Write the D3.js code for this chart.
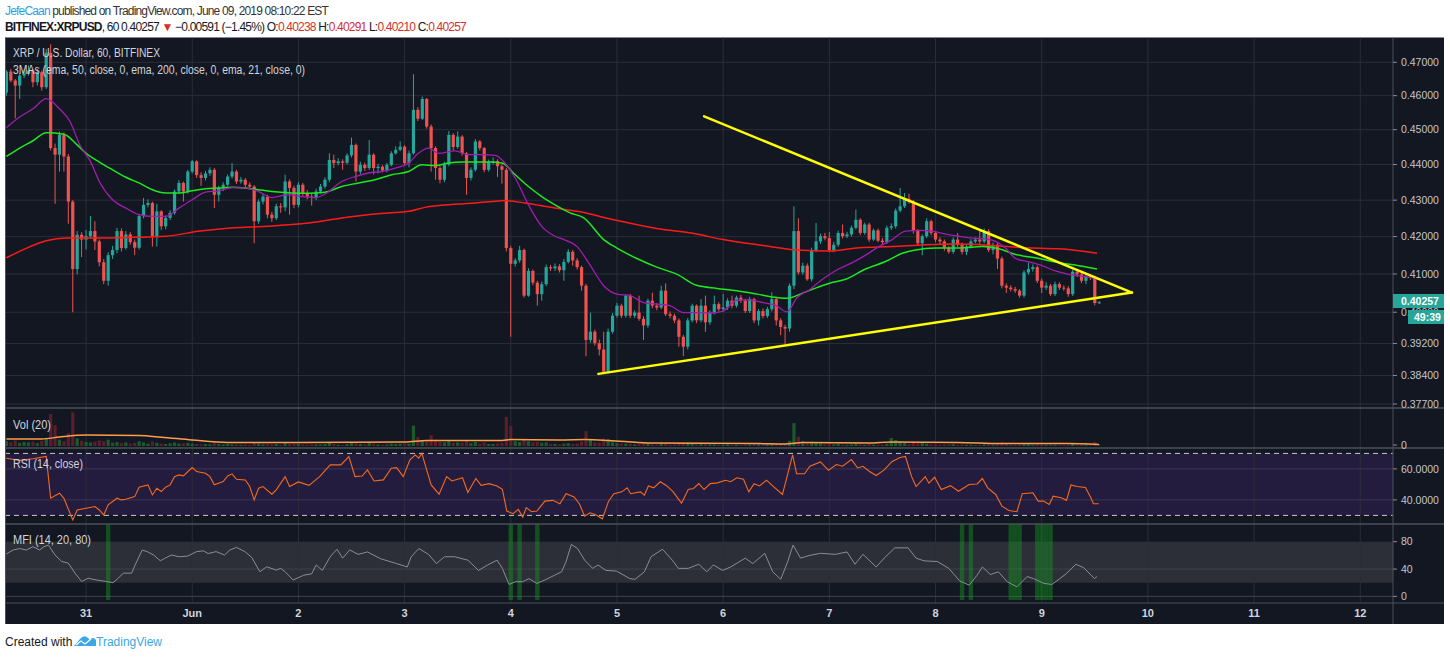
<!DOCTYPE html>
<html>
<head>
<meta charset="utf-8">
<script src="https://cdn.jsdelivr.net/npm/d3@7"></script>
<style>
  body { margin:0; background:#fff; font-family:"Liberation Sans", Arial, sans-serif; }
  svg { display:block; }
</style>
</head>
<body>
<svg id="chart" width="1450" height="657"></svg>
<script>
//
//  XRPUSD 60 min, Bitfinex - candles, 3 EMAs, Vol, RSI, MFI
//
const firstOpen = 0.4609;
const closes = [
  0.4672,0.4645,0.4630,0.4660,0.4665,0.4675,0.4640,0.4670,0.4625,0.4729,
  0.4447,0.4428,0.4485,0.4423,0.4296,0.4113,0.4205,0.4192,0.4201,0.4215,
  0.4187,0.4131,0.4082,0.4150,0.4164,0.4215,0.4169,0.4206,0.4185,0.4170,
  0.4256,0.4287,0.4292,0.4201,0.4269,0.4228,0.4251,0.4265,0.4324,0.4348,
  0.4324,0.4380,0.4409,0.4370,0.4362,0.4375,0.4385,0.4315,0.4334,0.4343,
  0.4366,0.4380,0.4352,0.4357,0.4343,0.4338,0.4242,0.4296,0.4310,0.4260,
  0.4250,0.4283,0.4280,0.4352,0.4334,0.4287,0.4343,0.4320,0.4310,0.4306,
  0.4324,0.4338,0.4357,0.4413,0.4404,0.4409,0.4405,0.4426,0.4456,0.4380,
  0.4399,0.4390,0.4428,0.4390,0.4394,0.4383,0.4399,0.4432,0.4442,0.4451,
  0.4404,0.4432,0.4558,0.4532,0.4590,0.4509,0.4447,0.4390,0.4357,0.4400,
  0.4485,0.4450,0.4480,0.4432,0.4362,0.4385,0.4466,0.4447,0.4385,0.4408,
  0.4410,0.4395,0.4385,0.4169,0.4127,0.4136,0.4164,0.4043,0.4108,0.4077,
  0.4047,0.4073,0.4118,0.4115,0.4120,0.4110,0.4132,0.4159,0.4136,0.4118,
  0.4069,0.3929,0.3950,0.3921,0.3905,0.3849,0.3950,0.3991,0.4017,0.3991,
  0.4043,0.3991,0.3999,0.3983,0.3966,0.4030,0.4017,0.4012,0.4056,0.3995,
  0.3991,0.3979,0.3937,0.3912,0.3979,0.4017,0.3979,0.4017,0.3974,0.3999,
  0.4021,0.4008,0.4012,0.4030,0.4017,0.4038,0.4030,0.4003,0.4034,0.3979,
  0.4003,0.3990,0.4008,0.4034,0.3979,0.3962,0.3958,0.4069,0.4215,0.4104,
  0.4122,0.4086,0.4164,0.4187,0.4201,0.4196,0.4164,0.4178,0.4210,0.4201,
  0.4206,0.4224,0.4246,0.4210,0.4233,0.4192,0.4217,0.4189,0.4185,0.4224,
  0.4228,0.4271,0.4283,0.4304,0.4296,0.4215,0.4182,0.4201,0.4242,0.4210,
  0.4192,0.4187,0.4169,0.4159,0.4192,0.4178,0.4159,0.4173,0.4187,0.4192,
  0.4187,0.4215,0.4164,0.4178,0.4141,0.4069,0.4064,0.4060,0.4056,0.4043,
  0.4104,0.4113,0.4118,0.4082,0.4064,0.4069,0.4047,0.4073,0.4064,0.4062,
  0.4047,0.4106,0.4099,0.4082,0.4093,0.4090,0.40238,0.40257
];
const highs = [
  0.4676,0.4680,0.4650,0.4668,0.4678,0.4690,0.4680,0.4680,0.4675,0.4740,
  0.4755,0.4460,0.4495,0.4492,0.4430,0.4300,0.4215,0.4212,0.4218,0.4256,
  0.4242,0.4192,0.4140,0.4158,0.4175,0.4224,0.4222,0.4215,0.4212,0.4192,
  0.4262,0.4306,0.4302,0.4296,0.4290,0.4272,0.4258,0.4272,0.4330,0.4356,
  0.4352,0.4385,0.4413,0.4412,0.4378,0.4382,0.4392,0.4390,0.4340,0.4350,
  0.4372,0.4404,0.4385,0.4365,0.4362,0.4350,0.4342,0.4302,0.4318,0.4315,
  0.4268,0.4290,0.4292,0.4371,0.4358,0.4340,0.4350,0.4348,0.4328,0.4318,
  0.4332,0.4345,0.4364,0.4432,0.4428,0.4418,0.4415,0.4432,0.4477,0.4460,
  0.4408,0.4405,0.4470,0.4432,0.4402,0.4398,0.4405,0.4438,0.4452,0.4466,
  0.4455,0.4440,0.4664,0.4566,0.4597,0.4593,0.4515,0.4452,0.4396,0.4408,
  0.4496,0.4490,0.4495,0.4484,0.4436,0.4392,0.4473,0.4470,0.4450,0.4414,
  0.4420,0.4415,0.4400,0.4390,0.4175,0.4142,0.4175,0.4168,0.4115,0.4112,
  0.4082,0.4080,0.4125,0.4124,0.4128,0.4126,0.4140,0.4166,0.4164,0.4142,
  0.4122,0.4074,0.3999,0.3955,0.3930,0.3950,0.3958,0.3998,0.4024,0.4022,
  0.4047,0.4048,0.4005,0.4043,0.3990,0.4035,0.4051,0.4024,0.4069,0.4075,
  0.4002,0.3996,0.3984,0.3942,0.3985,0.4022,0.4020,0.4034,0.4043,0.4005,
  0.4043,0.4026,0.4047,0.4036,0.4043,0.4043,0.4045,0.4035,0.4040,0.4038,
  0.4008,0.4010,0.4014,0.4052,0.4038,0.3985,0.3968,0.4075,0.4283,0.4250,
  0.4130,0.4128,0.4170,0.4237,0.4208,0.4210,0.4213,0.4186,0.4216,0.4233,
  0.4213,0.4230,0.4274,0.4250,0.4238,0.4238,0.4222,0.4222,0.4196,0.4230,
  0.4236,0.4277,0.4334,0.4320,0.4318,0.4300,0.4220,0.4206,0.4250,0.4246,
  0.4215,0.4198,0.4192,0.4175,0.4198,0.4210,0.4184,0.4178,0.4193,0.4198,
  0.4220,0.4222,0.4220,0.4184,0.4182,0.4146,0.4075,0.4070,0.4066,0.4060,
  0.4110,0.4130,0.4125,0.4122,0.4088,0.4078,0.4074,0.4080,0.4078,0.4070,
  0.4068,0.4112,0.4113,0.4104,0.4098,0.4098,0.4095,0.40291
];
const lows = [
  0.4600,0.4640,0.4533,0.4590,0.4652,0.4660,0.4625,0.4630,0.4615,0.4620,
  0.4440,0.4290,0.4380,0.4380,0.4235,0.4000,0.4099,0.4145,0.4165,0.4195,
  0.4164,0.4120,0.4073,0.4069,0.4140,0.4155,0.4160,0.4165,0.4178,0.4150,
  0.4165,0.4250,0.4280,0.4173,0.4173,0.4218,0.4220,0.4245,0.4260,0.4318,
  0.4296,0.4318,0.4375,0.4362,0.4340,0.4355,0.4368,0.4278,0.4296,0.4325,
  0.4338,0.4360,0.4345,0.4346,0.4335,0.4330,0.4182,0.4235,0.4288,0.4250,
  0.4240,0.4245,0.4265,0.4269,0.4260,0.4278,0.4280,0.4312,0.4302,0.4285,
  0.4300,0.4318,0.4332,0.4350,0.4390,0.4398,0.4385,0.4400,0.4420,0.4352,
  0.4372,0.4382,0.4385,0.4372,0.4375,0.4378,0.4378,0.4395,0.4428,0.4438,
  0.4398,0.4392,0.4428,0.4525,0.4528,0.4503,0.4380,0.4357,0.4347,0.4350,
  0.4395,0.4440,0.4445,0.4425,0.4315,0.4355,0.4380,0.4440,0.4378,0.4380,
  0.4400,0.4365,0.4346,0.4160,0.3937,0.4120,0.4130,0.4038,0.4040,0.4070,
  0.4017,0.4030,0.4068,0.4108,0.4108,0.4104,0.4082,0.4128,0.4122,0.4112,
  0.4056,0.3888,0.3922,0.3915,0.3890,0.3845,0.3845,0.3945,0.3986,0.3985,
  0.3986,0.3985,0.3985,0.3978,0.3929,0.3960,0.4010,0.4005,0.4008,0.3990,
  0.3984,0.3972,0.3912,0.3888,0.3905,0.3974,0.3972,0.3974,0.3950,0.3968,
  0.3994,0.4002,0.4002,0.4006,0.4010,0.4012,0.4024,0.3998,0.3998,0.3972,
  0.3966,0.3984,0.3985,0.4002,0.3966,0.3941,0.3917,0.3950,0.4060,0.4098,
  0.4098,0.4082,0.4080,0.4158,0.4180,0.4190,0.4158,0.4158,0.4172,0.4195,
  0.4196,0.4200,0.4220,0.4204,0.4205,0.4186,0.4188,0.4185,0.4178,0.4180,
  0.4218,0.4222,0.4266,0.4278,0.4290,0.4208,0.4175,0.4150,0.4196,0.4204,
  0.4185,0.4180,0.4162,0.4154,0.4154,0.4172,0.4152,0.4150,0.4168,0.4182,
  0.4180,0.4182,0.4158,0.4152,0.4113,0.4062,0.4050,0.4054,0.4050,0.4038,
  0.4038,0.4098,0.4106,0.4076,0.4050,0.4058,0.4042,0.4042,0.4058,0.4056,
  0.4040,0.4042,0.4092,0.4076,0.4073,0.4084,0.4018,0.40210
];
// volume, millions of XRP
const volumes = [
  1.2,0.9,1.4,0.8,1.0,0.9,1.1,0.7,1.3,2.0,
  8.0,5.2,1.6,1.2,3.2,8.4,1.9,1.3,1.0,0.9,
  1.1,1.4,1.2,1.6,0.8,1.0,0.7,0.9,0.6,0.8,
  1.2,0.9,0.6,1.1,0.8,0.6,0.5,0.7,0.9,0.6,
  0.7,0.8,0.6,0.5,0.4,0.5,0.4,0.8,0.5,0.4,
  0.5,0.4,0.4,0.3,0.4,0.3,0.9,0.6,0.4,0.5,
  0.4,0.5,0.3,0.7,0.5,0.6,0.5,0.4,0.3,0.4,
  0.4,0.4,0.5,0.9,0.5,0.3,0.3,0.5,0.8,0.9,
  0.5,0.4,0.8,0.6,0.4,0.3,0.4,0.6,0.5,0.6,
  0.7,0.6,5.1,2.2,1.5,1.4,2.7,1.6,1.0,0.9,
  1.4,0.8,0.9,0.8,1.2,0.7,1.0,0.6,0.9,0.5,
  0.5,0.6,0.8,7.3,5.0,1.2,1.0,1.6,1.2,0.9,
  1.0,0.8,0.9,0.5,0.5,0.4,0.6,0.7,0.5,0.6,
  1.1,3.7,1.6,0.9,0.8,1.8,1.7,0.9,0.7,0.6,
  0.6,0.6,0.4,0.5,0.8,0.7,0.4,0.3,0.6,0.7,
  0.3,0.4,0.6,0.7,0.8,0.6,0.4,0.5,0.6,0.4,
  0.4,0.3,0.3,0.4,0.3,0.3,0.2,0.4,0.4,0.5,
  0.4,0.3,0.3,0.4,0.5,0.5,0.6,1.3,5.7,2.3,
  1.2,0.9,1.1,0.8,0.6,0.4,0.5,0.4,0.5,0.3,
  0.3,0.4,0.6,0.4,0.3,0.5,0.3,0.3,0.3,0.6,
  2.0,1.5,1.2,0.8,0.5,0.9,0.7,0.8,0.6,0.4,
  0.4,0.3,0.4,0.4,0.5,0.3,0.4,0.3,0.3,0.2,
  0.3,0.4,0.5,0.3,0.6,0.9,0.5,0.3,0.3,0.4,
  0.7,0.5,0.3,0.5,0.4,0.3,0.4,0.3,0.2,0.2,
  0.3,0.6,0.3,0.3,0.2,0.2,1.0,0.1
];
// [bar index, value]
const volMA = [[0,1.75],[8,1.75],[12,2.25],[18,2.75],[30,2.6],[35,2.2],[42,1.5],[50,0.9],[66,0.9],
  [90,1.0],[95,1.4],[112,1.4],[114,1.6],[125,1.5],[131,1.6],[136,1.4],[145,0.75],[170,0.6],
  [176,0.5],[180,0.9],[195,0.75],[200,1.0],[215,0.9],[225,0.6],[240,0.6],[247,0.4]];
const ema21 = [[0,.4506],[3,.4537],[6,.4561],[9,.4591],[12,.4561],[14.4,.4523],[16.6,.4456],[19,.4409],
  [21,.4352],[24,.4301],[27,.4278],[30,.4260],[33,.4255],[36,.4255],[39,.4278],[42,.4301],[45,.4322],
  [48,.4326],[51,.4335],[54,.4334],[57,.4324],[60,.4307],[63.7,.4315],[66.8,.4310],[69.8,.4307],
  [72,.4317],[75.8,.4352],[78.8,.4366],[81.8,.4376],[84.8,.4380],[87.9,.4390],[90.9,.4404],[93.1,.4432],
  [95.4,.4447],[97.7,.4432],[101.4,.4439],[104.4,.4428],[107.4,.4428],[110.5,.4426],[112.7,.4404],
  [115,.4362],[118,.4287],[121,.4228],[124,.4201],[126,.4192],[129,.4173],[132,.4122],[135,.4069],
  [138,.4047],[141,.4043],[144,.4025],[147,.4021],[150,.4017],[153,.3999],[156,.3999],[159,.3998],
  [162,.4003],[165,.4031],[168,.4032],[171,.4025],[174,.4017],[176.4,.4001],[178.7,.4038],[181.7,.4060],
  [184,.4082],[186.2,.4100],[188.1,.4113],[191.2,.4130],[194.2,.4150],[197.2,.4173],[200.2,.4192],
  [203.2,.4215],[206.2,.4217],[209.2,.4215],[212.3,.4207],[215.3,.4201],[218.3,.4196],[221.3,.4194],
  [223.6,.4187],[225.8,.4169],[228.1,.4141],[231.1,.4132],[234.1,.4122],[237.1,.4108],[240.1,.4099],
  [243.2,.4094],[245.4,.4090],[247,.4085]];
const ema50 = [[0,.4423],[3,.4447],[6,.4468],[9,.4491],[13,.4487],[16,.4456],[18,.4432],[21,.4407],
  [24,.4385],[27,.4364],[30,.4348],[33,.4329],[36,.4320],[39,.4320],[42,.4326],[45,.4332],[48,.4334],
  [51,.4336],[54,.4334],[57,.4329],[60,.4324],[64.5,.4320],[68.3,.4319],[72,.4322],[75.8,.4338],
  [79.6,.4348],[83.3,.4357],[87.1,.4371],[90.9,.4380],[93.9,.4399],[96.9,.4397],[99.9,.4404],
  [102.9,.4407],[105.9,.4407],[109,.4407],[112,.4404],[115,.4371],[118,.4338],[121,.4310],[124,.4287],
  [127.4,.4265],[130.5,.4251],[135,.4192],[138,.4169],[142.5,.4141],[147,.4118],[151.6,.4099],
  [156,.4070],[160.6,.4062],[165.1,.4056],[169.7,.4047],[174.2,.4038],[176.4,.4036],[180.2,.4051],
  [183.2,.4064],[186.2,.4076],[189.7,.4086],[194.2,.4113],[198.7,.4133],[202.5,.4155],[205.5,.4164],
  [210,.4169],[215.3,.4169],[220.6,.4173],[224.3,.4167],[228.1,.4152],[233.4,.4141],[237.9,.4130],
  [242.4,.4122],[246.5,.4113]];
const ema200 = [[0,.4143],[4.6,.4169],[9,.4189],[13.6,.4196],[21,.4196],[28.7,.4198],[36,.4201],
  [43.8,.4215],[51.3,.4224],[58.8,.4228],[68.3,.4237],[75.8,.4251],[83.3,.4262],[90.9,.4269],
  [94.6,.4280],[102.2,.4289],[109.7,.4296],[112.7,.4299],[117.2,.4292],[124,.4278],[129,.4269],
  [138,.4244],[147,.4222],[156,.4207],[162,.4192],[171,.4176],[178.7,.4164],[186.2,.4161],
  [192.7,.4170],[200.2,.4173],[207.7,.4178],[215.3,.4180],[222.8,.4176],[230.3,.4170],[237.9,.4167],
  [246.5,.4155]];
const rsi = [[0,66.9],[3,65.5],[6,66.5],[9,68],[10,41.1],[12,44.3],[13,41],[15,27.1],[16,33.5],[18,34.6],
  [20,35.7],[21,33.5],[22,30.3],[23,36.8],[25,41.1],[26,40],[27,40.4],[29,42.1],[30,48.2],[32,49.7],
  [33,43.2],[34,47.5],[35,45.4],[36,48.2],[37,49.7],[38,55],[39,56.1],[40,55.5],[42,60.9],[43,58.3],
  [45,57.2],[46,55],[47,49.7],[49,51.8],[50,55.5],[51,56.8],[52,53.3],[54,52.9],[55,48.6],[56,40],
  [57,47.5],[58,48.6],[60,43.7],[61,46.5],[63,55],[64,48.6],[66,51.6],[68.4,49.4],[70.8,55],[73.2,62.6],
  [75.6,62.6],[77.4,68],[78.8,55],[80.4,55.4],[81.6,59.3],[83.1,52.2],[85.2,52.9],[87,60.4],[88.2,60.8],
  [89.7,55],[91.2,65.8],[92.4,69],[93.2,66.9],[93.9,70.1],[95.1,58.3],[96,49.7],[97.8,43.7],[99.5,55],
  [100.7,52.2],[103.1,54.3],[104.3,44.8],[106.1,53.8],[107.3,49.4],[109.1,50.5],[110.9,49],[112.1,46.8],
  [113.1,32.8],[114.5,31.1],[115.7,33.9],[116.7,28.9],[117.5,35],[118.7,32.4],[119.9,32.8],[121.7,39.2],
  [123.5,39.7],[125.1,37.5],[126.5,44],[128.3,41.9],[129.5,37.5],[130.7,29.5],[131.9,31.7],[133.1,30.6],
  [134.7,27.8],[136.1,39.2],[137.3,44],[139.1,45.2],[140.3,47.8],[141.1,44],[143.3,45.2],[144.2,43.1],
  [145.1,49],[146.3,47.8],[147.8,51.7],[149.3,49],[150.7,45.2],[152.6,37.9],[154.1,46.7],[155.3,47.4],
  [156.5,50.5],[157.7,46.7],[159.1,50.5],[160.7,51],[162.5,52.7],[163.7,51.7],[165.1,54.3],[166.6,53.3],
  [167.8,45.2],[169,50.5],[170.2,49],[171.8,52.7],[173.2,49],[175.4,43.5],[176.2,52.3],[177.7,69],
  [178.6,56.9],[180.4,56.9],[181.6,61.7],[184,64.5],[185.8,59.1],[187.6,62.8],[189,61.7],[191,66],
  [192.4,60.6],[193.6,61.7],[195,58.5],[196.6,55.7],[198.4,59.4],[200.2,64.8],[202,67.3],[203.2,68],
  [204.6,55],[205.6,48.6],[207.7,55],[208.5,50.8],[209.8,54.6],[211.3,46.7],[213.4,49.2],[215.2,45.6],
  [217.6,49.9],[219.4,50.3],[220.6,53.8],[221.8,47.8],[223.6,43.5],[225,36],[226.6,33.2],[228.4,32.4],
  [229.6,44],[232,44.6],[233.2,39.2],[234.4,39.2],[235.7,37.1],[236.6,42.4],[238.4,41.4],[239.6,39.7],
  [240.6,49.6],[242,48.6],[243.9,48],[245.1,41.4],[245.7,37.5],[246.9,37.5]];
const mfi = [[0,62],[1.5,67.8],[3,70],[4.5,67.8],[6,72.7],[7.5,67.8],[8.5,72.7],[9.5,75],[11,60.5],
  [12.5,51],[14,48.6],[15.5,34],[17,21.8],[18.5,26.6],[20.3,24],[22.6,21.8],[24.1,20],[25.3,26.6],
  [26.4,34],[28.3,34],[29.1,46],[30.7,67.8],[31.8,65.5],[33.3,60.5],[34.8,52],[35.8,55.7],[37.3,60.5],
  [39.1,58],[41,59],[43,65.5],[44.5,66.6],[45.6,62.7],[47.4,65.5],[49.3,60.5],[50.5,67.8],[52,71.7],
  [53.9,65.5],[55.4,57.4],[57.3,36],[58.8,43.3],[61,38.5],[62,41],[63,36],[64.8,24],[67.2,31],[69,33],
  [70,46],[71.4,38],[73.2,58],[74.7,69],[76,56],[77.6,68],[79.5,61.5],[81.6,65],[84.6,55],[88.2,48],
  [90.6,43],[91.5,58],[93.2,70],[95.4,61.5],[97.2,48],[99,58],[101.3,58],[104.3,53],[106.7,38],
  [108.8,46],[110.9,53],[112.1,41],[113.6,17.5],[115.1,21.5],[116.7,21.5],[118.1,26],[119.9,19],
  [121.7,24],[123.9,31],[125.5,36],[126.5,51],[127.7,76],[129.1,70],[130.7,53],[132.5,41],[133.7,46],
  [135.5,38],[137.9,37],[140.9,26],[142.1,25],[144.2,36],[145.7,58],[148.3,69],[150.5,53],[151.9,41],
  [154.1,41],[156.5,47],[158.3,36],[159.8,46],[161.9,38],[163.7,43],[167,56],[168.7,48],[171.4,63],
  [173.2,36],[175,25],[176.6,51],[177.8,75],[179.5,56],[181.6,60],[184,63],[187.4,61.5],[190,65],
  [191.8,47],[193.6,61.5],[196.6,43],[198.4,56],[200.8,71],[203.8,71],[205.6,56],[207.4,52],[210.4,51],
  [213,41],[215.5,22.5],[217.6,16.5],[219.4,31],[220.6,43],[222.4,32],[224.2,36],[226.2,21.5],
  [228.4,14],[230.7,29],[232.2,26],[234.5,19],[236.3,17.5],[238.1,26],[239.5,33],[241.7,47],
  [243.5,42],[245.9,26],[246.5,29]];
// bars where MFI is highlighted oversold
const mfiOversold = [23,114,116,120,216,218,227,228,229,233,234,235,236];
// triangle drawn on the chart: [bar index, price]
const upperTrend = [[157.7,0.4539],[254.4,0.4051]];
const lowerTrend = [[133.8,0.3844],[254.4,0.4051]];

const priceTicks = [0.47,0.46,0.45,0.44,0.43,0.42,0.41,0.40,0.392,0.384,0.377];
const dayLabels = ["31","Jun","2","3","4","5","6","7","8","9","10","11","12"];
const dayFirstBar = 18;   // index of the 31 May 00:00 bar
const lastPrice = "0.40257";
const countdown = "49:39";

const BG = "#131722", GRID = "#2a2e39", SEP = "#4c505b";
const UP = "#26a69a", DOWN = "#ef5350";

let svg = d3.select("#chart");
let chL = 5, chR = 1444, axisX = 1393;
let chTop = 37.5, mainBottom = 408, volBottom = 448, rsiBottom = 524, mfiBottom = 603, chBottom = 624;

let x = d3.scaleLinear().domain([0, 313.4]).range([6.4, axisX]);
let yPrice = d3.scaleLog().domain([0.377, 0.47]).range([404, 62.3]);
let yVol = d3.scaleLinear().domain([0, 9]).range([446, 410]);
let yRsi = d3.scaleLinear().domain([30, 70]).range([515.4, 453.4]);
let yMfi = d3.scaleLinear().domain([0, 80]).range([596.4, 541.7]);

let bars = closes.map((c, i) => ({
  i: i, o: i == 0 ? firstOpen : closes[i-1], h: highs[i], l: lows[i], c: c, v: volumes[i]
}));

// one line of mixed-colour text squeezed to a given width with letter-spacing
function richLine(g, x0, y, parts, width) {
  let t = g.append("text").attr("x", x0).attr("y", y);
  parts.forEach(p => {
    let s = t.append("tspan").attr("fill", p.fill || "#131722").text(p.text);
    if (p.bold) s.attr("font-weight", "bold");
  });
  let natural = t.node().getComputedTextLength();
  let n = parts.reduce((a, p) => a + p.text.length, 0);
  t.attr("letter-spacing", ((width - natural) / n).toFixed(3) + "px");
}

// header
let head = svg.append("g").style("font-size", "12px");
richLine(head, 5, 15, [
  {text: "JefeCaan", fill: "#2e9fe6"},
  {text: " published on TradingView.com, June 09, 2019 08:10:22 EST", fill: "#333"}
], 323);
let RED = "#d32f2f";
richLine(head, 5, 31, [
  {text: "BITFINEX:XRPUSD", bold: true},
  {text: ", 60 0.40257 "},
  {text: "▼", fill: RED},
  {text: " −0.00591 (−1.45%) O:"},
  {text: "0.40238", fill: RED},
  {text: " H:"},
  {text: "0.40291", fill: RED},
  {text: " L:"},
  {text: "0.40210", fill: RED},
  {text: " C:"},
  {text: "0.40257", fill: RED}
], 461);

// chart background
svg.append("rect").attr("x", chL).attr("y", chTop)
  .attr("width", chR - chL).attr("height", chBottom - chTop).attr("fill", BG);

svg.append("clipPath").attr("id", "plotclip").append("rect")
  .attr("x", chL).attr("y", chTop).attr("width", axisX - chL).attr("height", mfiBottom - chTop);
svg.append("clipPath").attr("id", "mainclip").append("rect")
  .attr("x", chL).attr("y", chTop).attr("width", axisX - chL).attr("height", mainBottom - chTop);

let plot = svg.append("g").attr("clip-path", "url(#plotclip)");

// bands
plot.append("rect").attr("x", chL).attr("width", axisX - chL)
  .attr("y", yRsi(70)).attr("height", yRsi(30) - yRsi(70)).attr("fill", "#241c3e");
plot.append("rect").attr("x", chL).attr("width", axisX - chL)
  .attr("y", yMfi(80)).attr("height", yMfi(20) - yMfi(80)).attr("fill", "#2c2f37");

// grid
let dayIdx = dayLabels.map((d, k) => dayFirstBar + 24*k);
plot.append("g").selectAll("line").data(dayIdx).enter().append("line")
  .attr("x1", d => x(d)).attr("x2", d => x(d))
  .attr("y1", chTop).attr("y2", mfiBottom)
  .attr("stroke", GRID).attr("stroke-width", 1);
plot.append("g").selectAll("line").data(priceTicks).enter().append("line")
  .attr("x1", chL).attr("x2", axisX)
  .attr("y1", d => yPrice(d)).attr("y2", d => yPrice(d))
  .attr("stroke", GRID);
plot.append("g").selectAll("line").data([60, 40]).enter().append("line")
  .attr("x1", chL).attr("x2", axisX)
  .attr("y1", d => yRsi(d)).attr("y2", d => yRsi(d))
  .attr("stroke", "#3b3556");
plot.append("g").selectAll("line").data([40, 0]).enter().append("line")
  .attr("x1", chL).attr("x2", axisX)
  .attr("y1", d => yMfi(d)).attr("y2", d => yMfi(d))
  .attr("stroke", "#40434c");

// MFI oversold highlight
plot.append("g").selectAll("rect").data(mfiOversold).enter().append("rect")
  .attr("x", d => x(d) - 2.2).attr("width", 4.4)
  .attr("y", rsiBottom).attr("height", mfiBottom - rsiBottom - 3)
  .attr("fill", "rgb(20,150,30)").attr("opacity", 0.45);

// RSI 70 / 30 dashed
plot.append("g").selectAll("line").data([70, 30]).enter().append("line")
  .attr("x1", chL).attr("x2", axisX)
  .attr("y1", d => yRsi(d)).attr("y2", d => yRsi(d))
  .attr("stroke", "#c8c8cc").attr("stroke-dasharray", "5,4");

// price panel
let main = svg.append("g").attr("clip-path", "url(#mainclip)");
let candles = main.append("g").selectAll("g").data(bars).enter().append("g");
candles.append("line")
  .attr("x1", d => x(d.i)).attr("x2", d => x(d.i))
  .attr("y1", d => yPrice(d.h)).attr("y2", d => yPrice(d.l))
  .attr("stroke", d => d.c >= d.o ? UP : DOWN).attr("stroke-width", 1);
candles.append("rect")
  .attr("x", d => x(d.i) - 1.6).attr("width", 3.2)
  .attr("y", d => yPrice(Math.max(d.o, d.c)))
  .attr("height", d => Math.max(1, yPrice(Math.min(d.o, d.c)) - yPrice(Math.max(d.o, d.c))))
  .attr("fill", d => d.c >= d.o ? UP : DOWN);

let priceLine = d3.line().x(d => x(d[0])).y(d => yPrice(d[1])).curve(d3.curveMonotoneX);
main.append("path").attr("d", priceLine(ema200)).attr("fill", "none").attr("stroke", "#ff1a1a").attr("stroke-width", 1.5);
main.append("path").attr("d", priceLine(ema50)).attr("fill", "none").attr("stroke", "#1ee81e").attr("stroke-width", 1.5);
main.append("path").attr("d", priceLine(ema21)).attr("fill", "none").attr("stroke", "#a21caf").attr("stroke-width", 1.3);

let trend = d3.line().x(d => x(d[0])).y(d => yPrice(d[1]));
[upperTrend, lowerTrend].forEach(t => {
  main.append("path").attr("d", trend(t)).attr("fill", "none")
    .attr("stroke", "#ffff00").attr("stroke-width", 2.5).attr("stroke-linecap", "round");
});

// volume
plot.append("g").selectAll("rect").data(bars).enter().append("rect")
  .attr("x", d => x(d.i) - 1.6).attr("width", 3.2)
  .attr("y", d => yVol(d.v)).attr("height", d => yVol(0) - yVol(d.v))
  .attr("fill", d => d.c >= d.o ? "#1a5a2c" : "#5a1e2c");
let volLine = d3.line().x(d => x(d[0])).y(d => yVol(d[1])).curve(d3.curveMonotoneX);
plot.append("path").attr("d", volLine(volMA)).attr("fill", "none").attr("stroke", "#ff9d4a").attr("stroke-width", 1.5);

// RSI, MFI
let rsiLine = d3.line().x(d => x(d[0])).y(d => yRsi(d[1]));
plot.append("path").attr("d", rsiLine(rsi)).attr("fill", "none").attr("stroke", "#f56a1d").attr("stroke-width", 1.1);
let mfiLine = d3.line().x(d => x(d[0])).y(d => yMfi(d[1]));
plot.append("path").attr("d", mfiLine(mfi)).attr("fill", "none").attr("stroke", "#8a8d94").attr("stroke-width", 1);

// separators
let seps = svg.append("g").attr("stroke", SEP).attr("stroke-width", 1.5);
[mainBottom, volBottom, rsiBottom].forEach(yy => {
  seps.append("line").attr("x1", chL).attr("x2", chR).attr("y1", yy).attr("y2", yy);
});
seps.append("line").attr("x1", chL).attr("x2", chR).attr("y1", mfiBottom).attr("y2", mfiBottom).attr("stroke-width", 1);
seps.append("line").attr("x1", axisX).attr("x2", axisX).attr("y1", chTop).attr("y2", chBottom).attr("stroke-width", 1);
seps.append("line").attr("x1", chL + 0.5).attr("x2", chL + 0.5).attr("y1", chTop).attr("y2", chBottom).attr("stroke-width", 1);

// panel titles
let titles = svg.append("g").attr("fill", "#d1d4dc").style("font-size", "12px");
function title(txt, yy, w) {
  titles.append("text").attr("x", 13).attr("y", yy).text(txt)
    .attr("textLength", w).attr("lengthAdjust", "spacingAndGlyphs");
}
title("XRP / U.S. Dollar, 60, BITFINEX", 57, 147);
title("3MAs (ema, 50, close, 0, ema, 200, close, 0, ema, 21, close, 0)", 74, 292);
title("Vol (20)", 428.5, 38);
title("RSI (14, close)", 467.5, 70);
title("MFI (14, 20, 80)", 544, 78);

// right axis
let axis = svg.append("g").style("font-size", "10.5px").attr("fill", "#c3c6cd");
function axisLabel(yy, txt) {
  axis.append("line").attr("x1", axisX).attr("x2", axisX + 4).attr("y1", yy).attr("y2", yy).attr("stroke", "#8a8d94");
  axis.append("text").attr("x", 1401).attr("y", yy).attr("dy", "0.35em").text(txt);
}
priceTicks.forEach(p => axisLabel(yPrice(p), d3.format(".5f")(p)));
axisLabel(445, "0");
axisLabel(yRsi(60), "60.0000");
axisLabel(yRsi(40), "40.0000");
[80, 40, 0].forEach(v => axisLabel(yMfi(v), String(v)));

// last price + countdown (the 0.40000 label sits underneath, as on the original)
let lastY = 301;
svg.append("rect").attr("x", axisX).attr("y", lastY - 7).attr("width", chR - axisX).attr("height", 14).attr("fill", UP);
svg.append("text").attr("x", 1401).attr("y", lastY).attr("dy", "0.35em")
  .attr("fill", "#fff").style("font-size", "10.5px").style("font-weight", "bold").text(lastPrice);
svg.append("rect").attr("x", 1408).attr("y", lastY + 9).attr("width", chR - 1408).attr("height", 14).attr("fill", UP);
svg.append("text").attr("x", 1414).attr("y", lastY + 16).attr("dy", "0.35em")
  .attr("fill", "#fff").style("font-size", "10.5px").style("font-weight", "bold").text(countdown);

// time axis
svg.append("g").style("font-size", "11px").attr("fill", "#d1d4dc")
  .selectAll("text").data(dayLabels).enter().append("text")
  .attr("x", (d, k) => x(dayFirstBar + 24*k)).attr("y", 617)
  .attr("text-anchor", "middle").style("font-weight", "bold").text(d => d);

// footer
let foot = svg.append("g").style("font-size", "12px");
foot.append("text").attr("x", 5).attr("y", 646).attr("fill", "#131722").text("Created with");
foot.append("path")
  .attr("d", "M74,646 L80,639 Q84,634 88,638 L90,640 Q93,636 96,640 L96,646 Z")
  .attr("fill", "#3aa8e6");
foot.append("path").attr("d", "M76,645 L81,641 L85,644 L91,639")
  .attr("fill", "none").attr("stroke", "#fff").attr("stroke-width", 1.3);
foot.append("text").attr("x", 96).attr("y", 646).attr("fill", "#3aa8e6").text("TradingView");
</script>
</body>
</html>
